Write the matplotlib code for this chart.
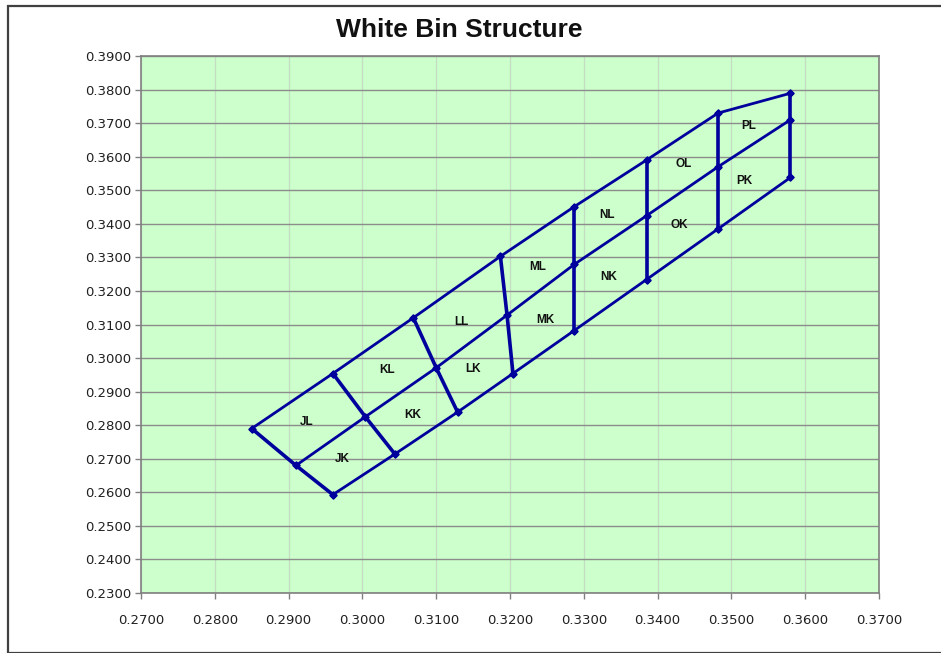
import matplotlib
matplotlib.use("Agg")
import matplotlib.pyplot as plt
from matplotlib.patches import Rectangle

# ---- data ----
upper_x = [0.2850, 0.2960, 0.3069, 0.3187, 0.3287, 0.3385, 0.3482, 0.3580]
upper_y = [0.2790, 0.2954, 0.3120, 0.3303, 0.3451, 0.3590, 0.3730, 0.3789]
mid_x = [0.2910, 0.3004, 0.3100, 0.3196, 0.3287, 0.3385, 0.3482, 0.3580]
mid_y = [0.2680, 0.2825, 0.2971, 0.3128, 0.3279, 0.3424, 0.3570, 0.3710]
lower_x = [0.2960, 0.3044, 0.3129, 0.3204, 0.3287, 0.3385, 0.3482, 0.3580]
lower_y = [0.2593, 0.2714, 0.2839, 0.2954, 0.3082, 0.3234, 0.3385, 0.3538]

bin_names = ["JL", "JK", "KL", "KK", "LL", "LK", "ML", "MK", "NL", "NK", "OL", "OK", "PL", "PK"]
bin_x = [0.2925, 0.2973, 0.3033, 0.3068, 0.3134, 0.3150, 0.3238, 0.3248, 0.3332, 0.3334, 0.3435, 0.3429, 0.3523, 0.3518]
bin_y = [0.2810, 0.2699, 0.2963, 0.2831, 0.3106, 0.2968, 0.3271, 0.3112, 0.3427, 0.3242, 0.3577, 0.3395, 0.3690, 0.3528]

x_ticks = [0.27, 0.28, 0.29, 0.30, 0.31, 0.32, 0.33, 0.34, 0.35, 0.36, 0.37]
y_ticks = [0.23, 0.24, 0.25, 0.26, 0.27, 0.28, 0.29, 0.30, 0.31, 0.32, 0.33, 0.34, 0.35, 0.36, 0.37, 0.38, 0.39]
title = "White Bin Structure"

# ---- figure ----
W, H = 941, 653
fig = plt.figure(figsize=(W / 100, H / 100), dpi=100)
fig.patch.set_facecolor("white")

# outer chart border
fig.patches.append(Rectangle((8 / W, 0.5 / H), (W + 10) / W, (H - 6) / H,
                             transform=fig.transFigure, fill=False,
                             edgecolor="#404040", linewidth=1.6, zorder=0))

ax = fig.add_axes([141 / W, 1 - 593 / H, (879 - 141) / W, (593 - 56) / H])
ax.set_facecolor("#CCFFCC")
ax.set_xlim(0.27, 0.37)
ax.set_ylim(0.23, 0.39)
ax.set_xticks(x_ticks)
ax.set_yticks(y_ticks)
ax.set_xticklabels([f"{v:.4f}" for v in x_ticks])
ax.set_yticklabels([f"{v:.4f}" for v in y_ticks])
ax.tick_params(axis="both", direction="out", length=4, width=1, color="#808080",
               labelsize=9.5, labelcolor="#202020", pad=3)
ax.tick_params(axis="x", pad=11)
for lab in ax.get_xticklabels() + ax.get_yticklabels():
    lab.set_family("DejaVu Sans")

for s in ax.spines.values():
    s.set_color("#808080")
    s.set_linewidth(1.2)

for v in y_ticks:
    ax.axhline(v, color="#8C8C8C", linewidth=1.0, zorder=1)
for v in x_ticks:
    ax.axvline(v, color="#C4DCC4", linewidth=0.9, zorder=0.9)

col = "#00009C"
for xs, ys in [(upper_x, upper_y), (mid_x, mid_y), (lower_x, lower_y)]:
    ax.plot(xs, ys, color=col, linewidth=2.0, marker="D", markersize=3.5,
            zorder=3, solid_capstyle="round")
for i in range(len(upper_x)):
    ax.plot([upper_x[i], mid_x[i], lower_x[i]], [upper_y[i], mid_y[i], lower_y[i]],
            color=col, linewidth=2.6, marker="D", markersize=3.5, zorder=3,
            solid_capstyle="round")

for name, bx, by in zip(bin_names, bin_x, bin_y):
    ax.text(bx, by, name, ha="center", va="center", fontsize=8.5,
            fontweight="bold", family="Liberation Sans", color="#111111", zorder=4)

fig.text(0.488, 1 - 30 / H, title, ha="center", va="center", fontsize=19,
         fontweight="bold", family="Liberation Sans", color="#111111")

fig.savefig("out.png", dpi=100)
